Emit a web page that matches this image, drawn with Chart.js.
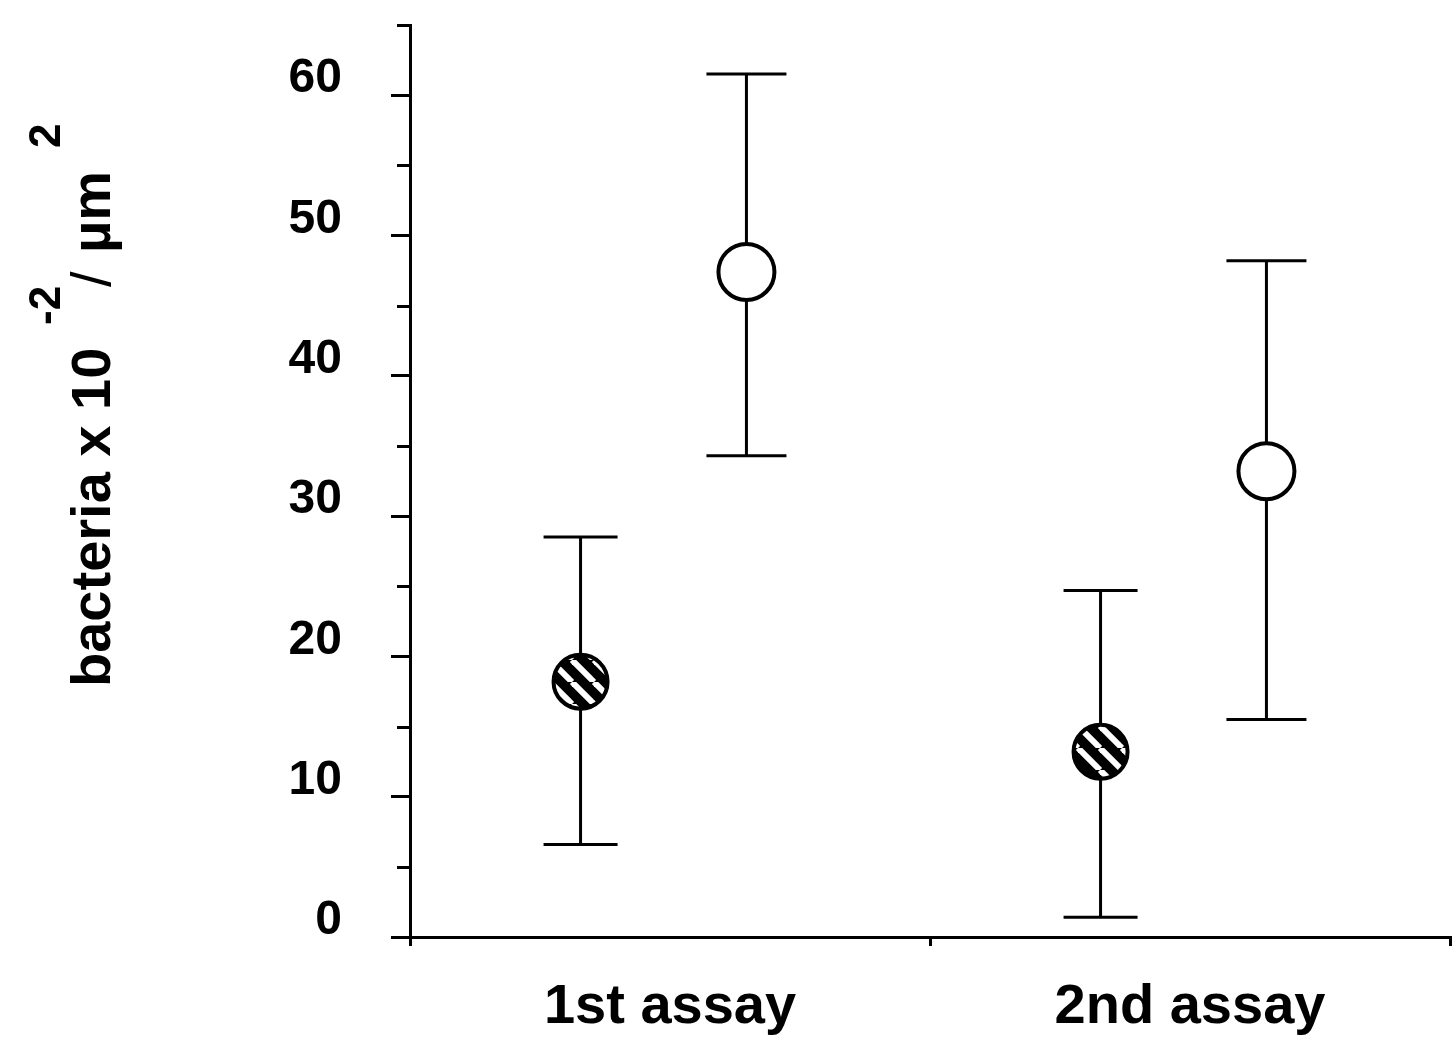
<!DOCTYPE html>
<html><head><meta charset="utf-8">
<script src="https://cdn.jsdelivr.net/npm/chart.js@4.4.1/dist/chart.umd.min.js"></script>
<style>html,body{margin:0;padding:0;background:#fff}#wrap{width:1453px;height:1041px;position:relative}</style>
</head><body><div id="wrap"><canvas id="c" width="1453" height="1041"></canvas></div>
<script>
// ---- data ----
const categories = ['1st assay', '2nd assay'];
const hatchedMean = [18.2, 13.2];
const hatchedLow  = [6.6, 1.4];
const hatchedHigh = [28.5, 24.7];
const openMean = [47.4, 33.2];
const openLow  = [34.3, 15.5];
const openHigh = [61.5, 48.2];
const yMajorTicks = [0, 10, 20, 30, 40, 50, 60];
const yMinorTicks = [5, 15, 25, 35, 45, 55, 65];
const yAxisMax = 65;

// ---- style / layout ----
const GROUP_SHIFT = { hatched: -0.172, open: 0.147 };
const FONT = '"Liberation Sans", Arial, Helvetica, sans-serif';

function makeHatch() {
  const s = 22;
  const c = document.createElement('canvas');
  c.width = s; c.height = s;
  const g = c.getContext('2d');
  g.fillStyle = '#000'; g.fillRect(0, 0, s, s);
  g.strokeStyle = '#fff'; g.lineWidth = 6;
  for (let k = -1; k <= 1; k++) {
    g.beginPath(); g.moveTo(k * s, 0); g.lineTo(k * s + s, s); g.stroke();
  }
  return g.createPattern(c, 'repeat');
}
const hatch = makeHatch();

function toPoints(means, shift) {
  return means.map((v, i) => ({ x: i + shift, y: v }));
}

const errorBars = {
  id: 'errorBars',
  beforeDatasetsDraw(chart) {
    const ctx = chart.ctx, y = chart.scales.y;
    chart.data.datasets.forEach((ds, di) => {
      const meta = chart.getDatasetMeta(di);
      meta.data.forEach((pt, i) => {
        const x = pt.x;
        const yl = y.getPixelForValue(ds.errLow[i]);
        const yh = y.getPixelForValue(ds.errHigh[i]);
        ctx.save();
        ctx.strokeStyle = '#000'; ctx.lineWidth = 3; ctx.lineCap = 'butt';
        ctx.beginPath();
        ctx.moveTo(x, yl); ctx.lineTo(x, yh);
        ctx.moveTo(x - ds.capHalf, yl); ctx.lineTo(x + ds.capHalf, yl);
        ctx.moveTo(x - ds.capHalf, yh); ctx.lineTo(x + ds.capHalf, yh);
        ctx.stroke();
        ctx.restore();
      });
    });
  }
};

const axisExtras = {
  id: 'axisExtras',
  afterDraw(chart) {
    const ctx = chart.ctx, y = chart.scales.y, area = chart.chartArea;
    ctx.save();
    ctx.strokeStyle = '#000'; ctx.lineWidth = 3;
    yMinorTicks.forEach(v => {
      const py = Math.round(y.getPixelForValue(v)) + 0.5;
      ctx.beginPath(); ctx.moveTo(area.left - 13, py); ctx.lineTo(area.left, py); ctx.stroke();
    });
    ctx.restore();

    // y-axis title with superscripts
    ctx.save();
    ctx.translate(110, 687);
    ctx.rotate(-Math.PI / 2);
    ctx.fillStyle = '#000';
    ctx.textBaseline = 'alphabetic';
    ctx.textAlign = 'left';
    ctx.font = 'bold 56px ' + FONT;
    ctx.fillText('bacteria x 10', 0, 0);
    ctx.font = 'bold 44px ' + FONT;
    ctx.fillText('-2', 362, -50);
    ctx.font = '56px ' + FONT;
    ctx.fillText('/', 400, 0);
    ctx.font = 'bold 56px ' + FONT;
    ctx.fillText('\u00b5m', 434, 0);
    ctx.font = 'bold 44px ' + FONT;
    ctx.fillText('2', 539, -50);
    ctx.restore();
  }
};

new Chart(document.getElementById('c'), {
  type: 'scatter',
  data: {
    datasets: [
      {
        label: 'hatched',
        data: toPoints(hatchedMean, GROUP_SHIFT.hatched),
        errLow: hatchedLow, errHigh: hatchedHigh, capHalf: 37,
        xAxisID: 'xPos',
        pointRadius: 27, pointHoverRadius: 27,
        pointBackgroundColor: hatch, pointBorderColor: '#000', pointBorderWidth: 4
      },
      {
        label: 'open',
        data: toPoints(openMean, GROUP_SHIFT.open),
        errLow: openLow, errHigh: openHigh, capHalf: 40,
        xAxisID: 'xPos',
        pointRadius: 28, pointHoverRadius: 28,
        pointBackgroundColor: '#fff', pointBorderColor: '#000', pointBorderWidth: 4
      }
    ]
  },
  options: {
    responsive: false,
    animation: false,
    events: [],
    layout: { autoPadding: false, padding: { top: 25, right: 3, left: 0, bottom: 0 } },
    plugins: { legend: { display: false }, tooltip: { enabled: false } },
    scales: {
      x: {
        type: 'category',
        labels: categories,
        offset: true,
        position: 'bottom',
        afterFit(s) { s.height = 104; s.paddingLeft = 0; s.paddingRight = 0; s.paddingTop = 0; s.paddingBottom = 0; },
        grid: { offset: true, drawOnChartArea: false, drawTicks: true, tickLength: 9, color: '#000', lineWidth: 3 },
        border: { display: true, color: '#000', width: 3 },
        ticks: { color: '#000', font: { family: FONT, size: 56, weight: 'bold' }, padding: 28, maxRotation: 0 }
      },
      xPos: {
        type: 'linear', display: false, min: -0.5, max: 1.5
      },
      y: {
        type: 'linear', min: 0, max: yAxisMax, position: 'left',
        afterFit(s) { s.width = 410; s.paddingTop = 0; s.paddingBottom = 0; s.paddingLeft = 0; s.paddingRight = 0; },
        afterBuildTicks(s) { s.ticks = yMajorTicks.map(v => ({ value: v })); },
        grid: { drawOnChartArea: false, drawTicks: true, tickLength: 19, color: '#000', lineWidth: 3 },
        border: { display: true, color: '#000', width: 3 },
        ticks: { color: '#000', font: { family: FONT, size: 48, weight: 'bold' }, padding: 49, labelOffset: -16 }
      }
    }
  },
  plugins: [errorBars, axisExtras]
});
</script>
</body></html>
